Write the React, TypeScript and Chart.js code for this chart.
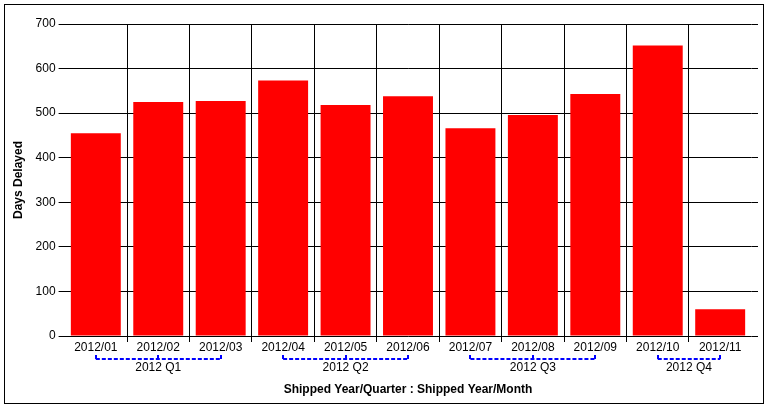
import React, { useEffect, useRef } from "react";
import { Chart, registerables } from "chart.js";

Chart.register(...registerables);

const months = ["2012/01", "2012/02", "2012/03", "2012/04", "2012/05", "2012/06", "2012/07", "2012/08", "2012/09", "2012/10", "2012/11"];
const daysDelayed = [455, 525, 527, 573, 518, 538, 466, 496, 543, 652, 60];
const quarters = ["2012 Q1", "2012 Q2", "2012 Q3", "2012 Q4"];
const monthsPerQuarter = [3, 3, 3, 2];
const yTicks = [0, 100, 200, 300, 400, 500, 600, 700];

const FONT = "'Liberation Sans', Arial, sans-serif";

const extrasPlugin = {
  id: "extras",
  beforeDraw(chart: any) {
    const ctx = chart.ctx;
    ctx.save();
    ctx.fillStyle = "#ffffff";
    ctx.fillRect(0, 0, chart.width, chart.height);
    ctx.strokeStyle = "#000000";
    ctx.lineWidth = 1;
    ctx.strokeRect(4.5, 4.5, 759, 399);
    ctx.restore();
  },
  afterDraw(chart: any) {
    const ctx = chart.ctx;
    const x = chart.scales.x;
    const y = chart.scales.y;
    const area = chart.chartArea;
    ctx.save();
    // extend horizontal grid lines slightly past the last category
    ctx.strokeStyle = "#000000";
    ctx.lineWidth = 1;
    y.ticks.forEach((t: any, i: number) => {
      const py = Math.round(y.getPixelForTick(i) - 0.5) + 0.5;
      ctx.beginPath();
      ctx.moveTo(area.right, py);
      ctx.lineTo(758, py);
      ctx.stroke();
    });
    // quarter brackets
    const by = area.bottom + 23;
    let start = 0;
    quarters.forEach((q, qi) => {
      const n = monthsPerQuarter[qi];
      const end = start + n - 1;
      const x1 = x.getPixelForValue(start);
      const x2 = x.getPixelForValue(end);
      ctx.strokeStyle = "#0000ff";
      ctx.lineWidth = 2;
      ctx.setLineDash([4, 2]);
      ctx.beginPath();
      ctx.moveTo(x1, by);
      ctx.lineTo(x2, by);
      ctx.stroke();
      ctx.setLineDash([]);
      for (let m = start; m <= end; m++) {
        const px = Math.round(x.getPixelForValue(m));
        ctx.beginPath();
        ctx.moveTo(px, by - 4);
        ctx.lineTo(px, by);
        ctx.stroke();
      }
      ctx.fillStyle = "#000000";
      ctx.font = `12px ${FONT}`;
      ctx.textAlign = "center";
      ctx.textBaseline = "middle";
      ctx.fillText(q, (x1 + x2) / 2, by + 9);
      start += n;
    });
    ctx.restore();
  },
};

export default function App() {
  const ref = useRef<HTMLCanvasElement | null>(null);
  useEffect(() => {
    if (!ref.current) return;
    const chart = new Chart(ref.current, {
      type: "bar",
      data: {
        labels: months,
        datasets: [
          {
            label: "Days Delayed",
            data: daysDelayed,
            backgroundColor: "#ff0000",
            borderWidth: 0,
            barPercentage: 0.8,
            categoryPercentage: 1.0,
          },
        ],
      },
      options: {
        responsive: false,
        animation: false,
        layout: { padding: { left: 0, top: 24, right: 17.6, bottom: 0 } },
        plugins: {
          legend: { display: false },
          tooltip: { enabled: false },
        },
        scales: {
          x: {
            border: { display: false },
            grid: {
              offset: true,
              tickLength: 6,
              lineWidth: 1,
              color: (c: any) => (c.type === "tick" && c.index > 0 ? "#000000" : "rgba(0,0,0,0)"),
            },
            ticks: {
              color: "#000000",
              padding: 0,
              maxRotation: 0,
              autoSkip: false,
              font: { family: FONT, size: 12, lineHeight: 1 },
            },
            title: {
              display: true,
              text: "Shipped Year/Quarter : Shipped Year/Month",
              color: "#000000",
              font: { family: FONT, size: 12, weight: "bold" },
              padding: { top: 0, bottom: 12 },
            },
            afterFit: (s: any) => {
              s.height = 73;
            },
          },
          y: {
            min: 0,
            max: 700,
            border: { display: false },
            afterBuildTicks: (s: any) => {
              s.ticks = yTicks.map((v) => ({ value: v }));
            },
            grid: { color: "#000000", tickLength: 6, lineWidth: 1 },
            ticks: {
              color: "#000000",
              padding: 3,
              font: { family: FONT, size: 12 },
            },
            title: {
              display: true,
              text: "Days Delayed",
              color: "#000000",
              font: { family: FONT, size: 12, weight: "bold" },
              padding: { top: 11, bottom: 0 },
            },
            afterFit: (s: any) => {
              s.width = 64.6;
            },
          },
        },
      },
      plugins: [extrasPlugin],
    });
    return () => chart.destroy();
  }, []);
  return (
    <div style={{ position: "absolute", left: 0, top: 0, width: 769, height: 409, background: "#fff" }}>
      <canvas ref={ref} width={769} height={409} style={{ display: "block" }} />
    </div>
  );
}
